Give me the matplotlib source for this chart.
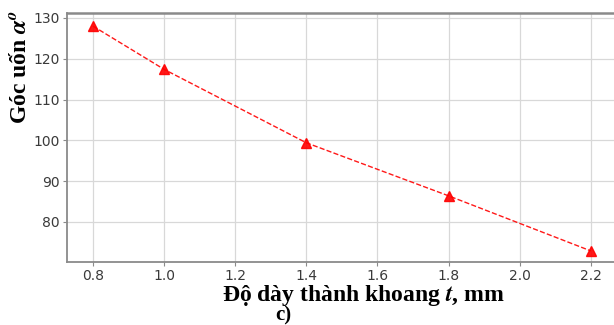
import numpy as np
import matplotlib.pyplot as plt

# Wall thickness t (mm) vs bending angle (deg)
thickness = [0.8, 1.0, 1.4, 1.8, 2.2]
angle = [128.0, 117.4, 99.4, 86.4, 72.9]
xticks = [0.8, 1.0, 1.2, 1.4, 1.6, 1.8, 2.0, 2.2]
yticks = [80, 90, 100, 110, 120, 130]

plt.rcParams['mathtext.fontset'] = 'stix'

fig = plt.figure(figsize=(6.14, 3.25), dpi=100)
ax = fig.add_axes([0.109, 0.194, 0.891, 0.766])

ax.plot(thickness, angle, color='red', linestyle='--', linewidth=1.0,
        marker='^', markersize=7, markeredgecolor='red', alpha=0.9)

ax.set_xlim(0.727, 2.265)
ax.set_ylim(70.2, 131.2)
ax.set_xticks(xticks)
ax.set_yticks(yticks)
ax.set_xticklabels([f'{v:.1f}' for v in xticks])

ax.grid(True, color='#d8d8d8', linewidth=0.9)
ax.set_axisbelow(True)
for side in ['left', 'bottom', 'top']:
    ax.spines[side].set_color('#8a8a8a')
    ax.spines[side].set_linewidth(1.3)
ax.spines['top'].set_linewidth(1.8)
ax.spines['right'].set_visible(False)
ax.tick_params(axis='both', colors='#8a8a8a', labelcolor='#3a3a3a',
               labelsize=10, length=3, pad=2)

serif = ['Liberation Serif', 'DejaVu Serif']
fig.text(0.034, 0.795, r'Góc uốn $\mathbfit{\alpha}^{\mathbfit{o}}$', rotation=90,
         ha='center', va='center', fontsize=17, fontweight='bold', family=serif)
fig.text(0.591, 0.092, r'Độ dày thành khoang $\mathbfit{t}$, mm', ha='center', va='center',
         fontsize=17, fontweight='bold', family=serif)
fig.text(0.461, 0.028, 'c)', ha='center', va='center',
         fontsize=15, fontweight='bold', family=serif)

fig.savefig('out.png', dpi=100)
